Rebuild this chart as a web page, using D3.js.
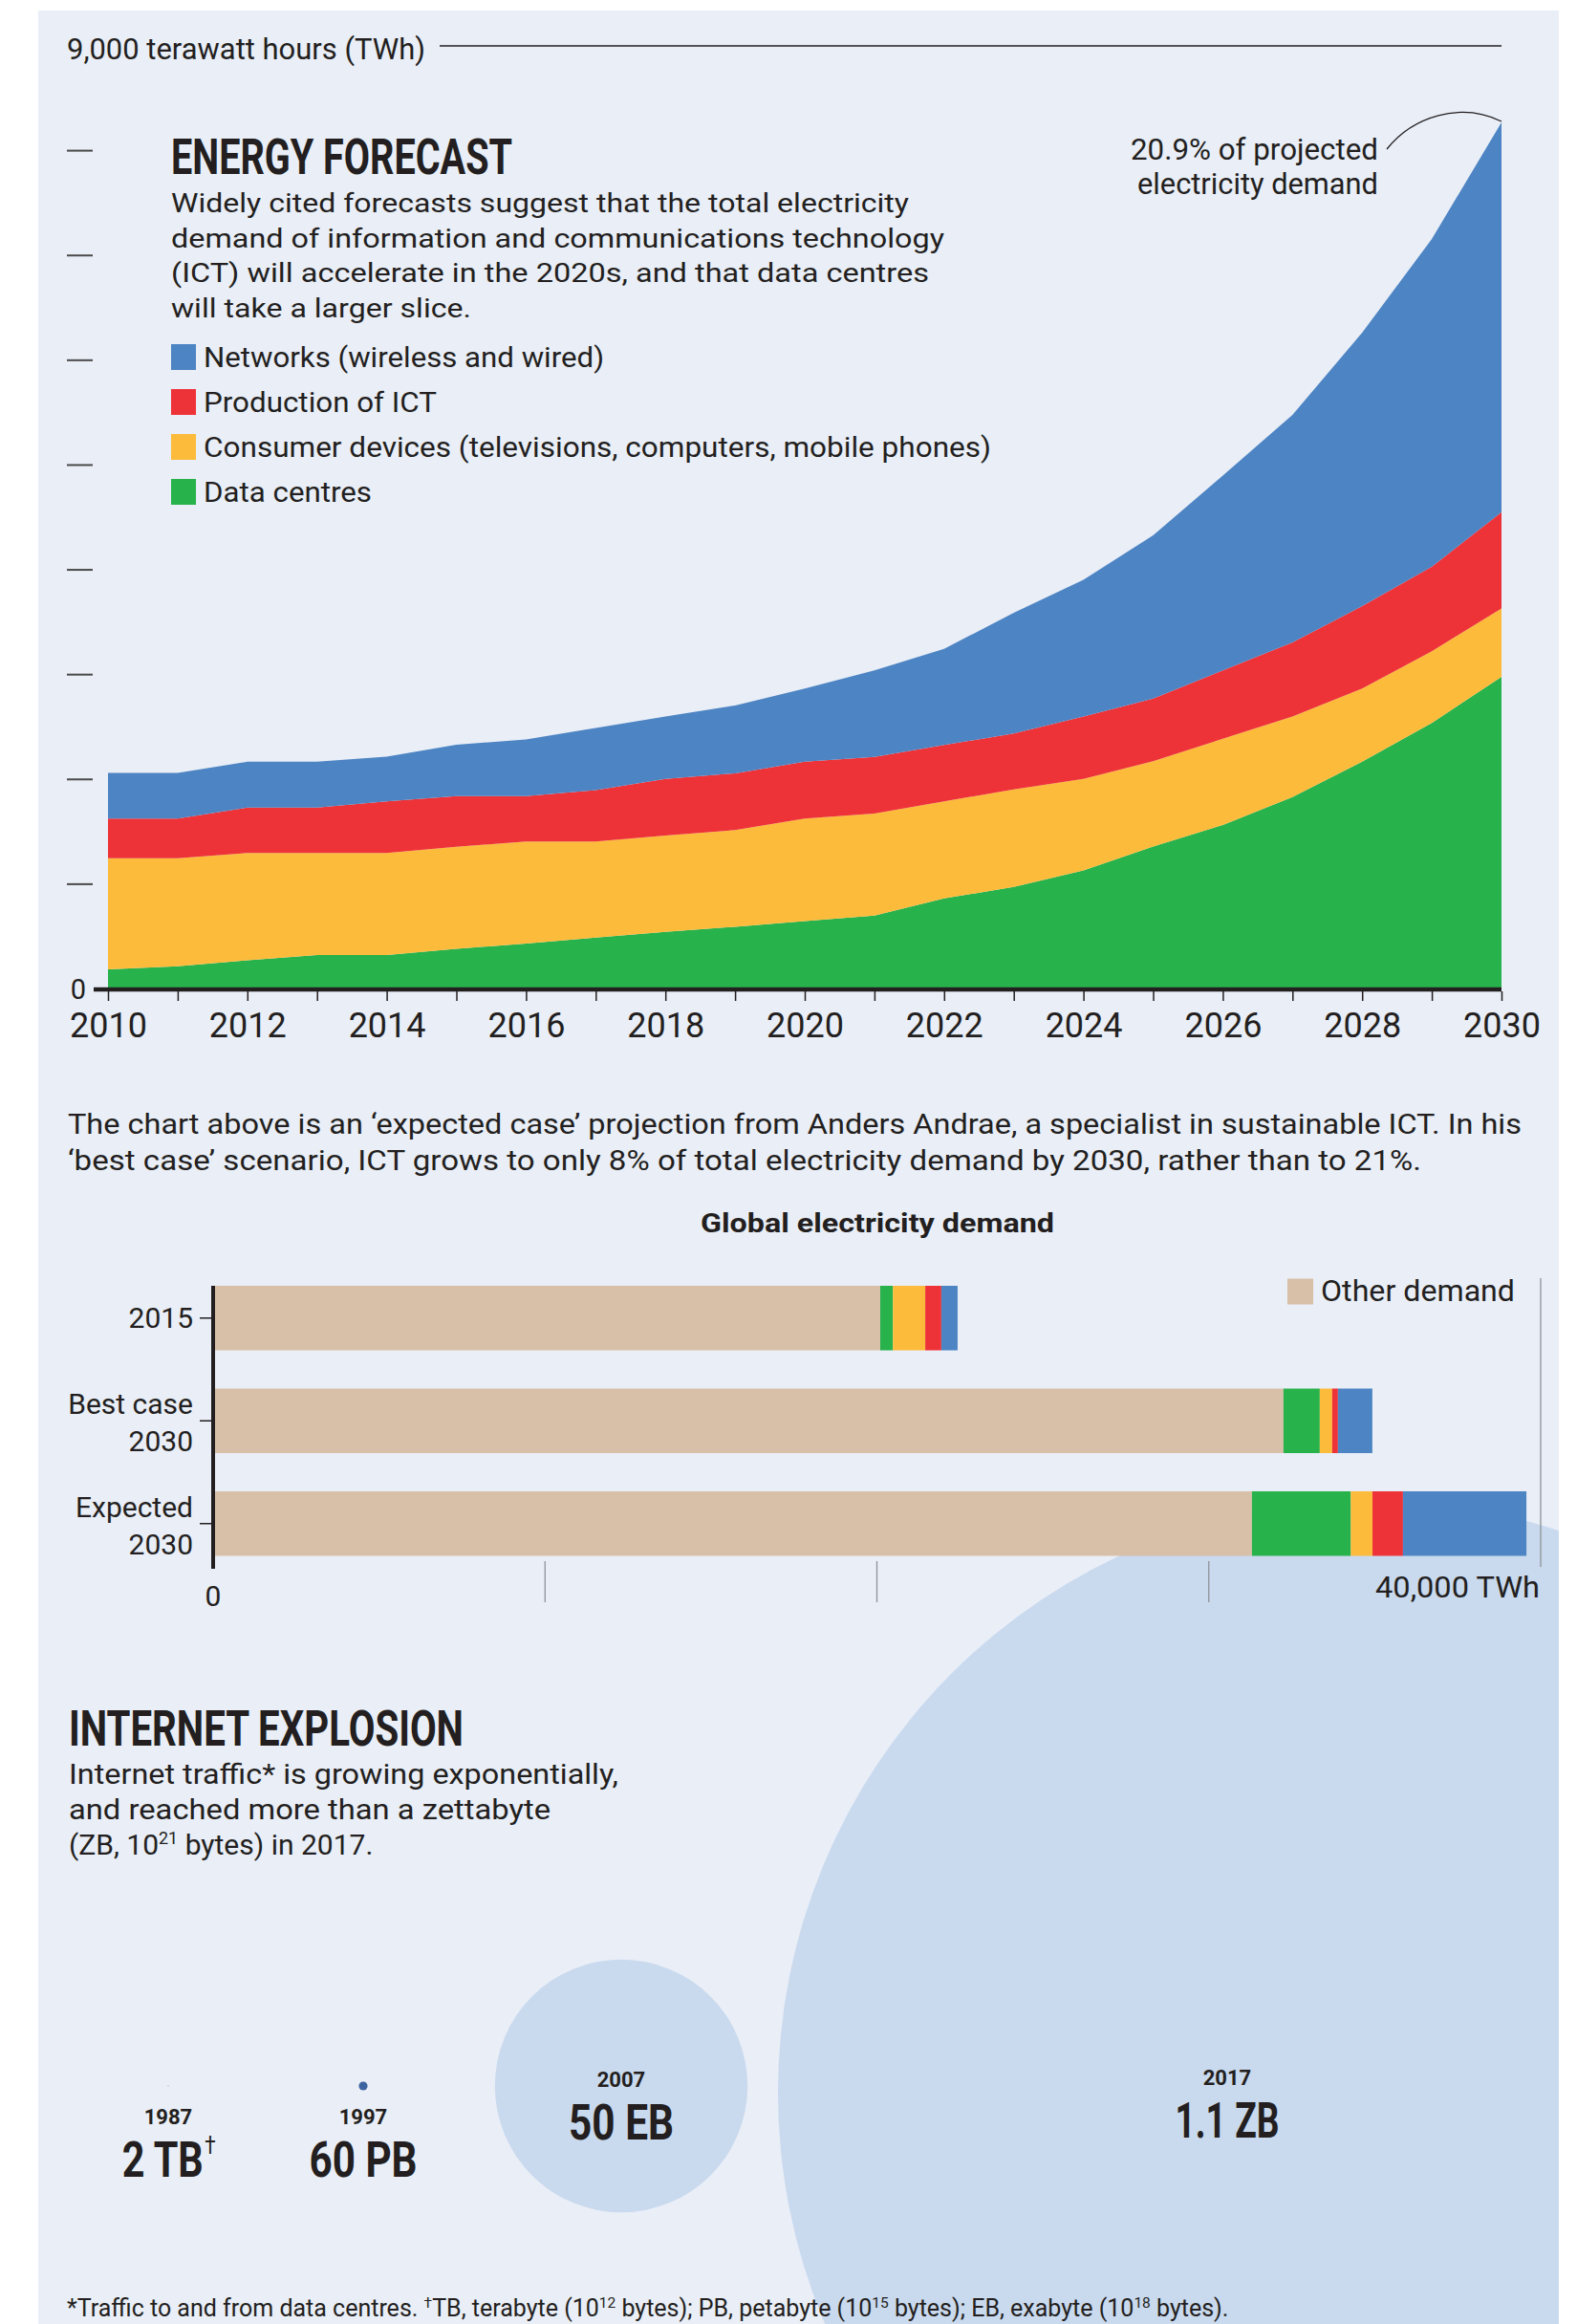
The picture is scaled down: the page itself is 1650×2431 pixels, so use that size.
<!DOCTYPE html>
<html>
<head>
<meta charset="utf-8">
<script src="https://cdn.jsdelivr.net/npm/d3@7"></script>
<style>
  html, body { margin: 0; padding: 0; background: #ffffff; }
  svg { display: block; }
  text { font-family: Roboto, "Liberation Sans", sans-serif; fill: #231f20; }
</style>
</head>
<body>
<svg id="chart" width="1650" height="2431"></svg>
<script>
// ---------- Energy forecast: ICT electricity demand (TWh) ----------
const years = [2010, 2011, 2012, 2013, 2014, 2015, 2016, 2017, 2018, 2019, 2020,
               2021, 2022, 2023, 2024, 2025, 2026, 2027, 2028, 2029, 2030];
const dataCentres     = [188, 217, 273, 324, 324, 383, 434, 490, 544, 594, 647,
                         701, 864, 974, 1131, 1360, 1565, 1832, 2168, 2539, 2978];
const consumerDevices = [1059, 1030, 1025, 974, 974, 974, 973, 917, 920, 923, 980,
                         974, 927, 930, 873, 814, 823, 769, 700, 684, 654];
const productionICT   = [380, 380, 433, 433, 493, 484, 434, 491, 540, 541, 541,
                         540, 537, 534, 597, 597, 653, 707, 786, 808, 918];
const networks        = [434, 434, 437, 437, 427, 490, 540, 593, 597, 647, 700,
                         826, 917, 1153, 1304, 1558, 1858, 2170, 2609, 3126, 3720];
const yTickValues = [1000, 2000, 3000, 4000, 5000, 6000, 7000, 8000];
const xTickLabels = [2010, 2012, 2014, 2016, 2018, 2020, 2022, 2024, 2026, 2028, 2030];
const legendNames = ["Networks (wireless and wired)", "Production of ICT",
                     "Consumer devices (televisions, computers, mobile phones)", "Data centres"];

// ---------- Global electricity demand (TWh) ----------
const demandCategories = [["2015"], ["Best case", "2030"], ["Expected", "2030"]];
const otherDemand        = [20100, 32250, 31300];
const demandDataCentres  = [383, 1094, 2978];
const demandConsumer     = [974, 374, 654];
const demandProduction   = [484, 173, 918];
const demandNetworks     = [490, 1037, 3720];
const demandTicks = [0, 10000, 20000, 30000, 40000];

// ---------- Internet traffic (bytes per year) ----------
const trafficYears  = ["1987", "1997", "2007", "2017"];
const trafficLabels = ["2 TB", "60 PB", "50 EB", "1.1 ZB"];
const trafficBytes  = [2e12, 60e15, 50e18, 1.1e21];

// ---------- styling ----------
const ink = "#231f20";
const colors = {
  nw: "#4d84c3", pr: "#ee3338", cd: "#fdbb3c", dc: "#28b24b", other: "#d8c0a8"
};
const bubbleLight = "#c9d9ee", bubbleDark = "#3d64a0";

const svg = d3.select("#chart");
const W = 1650, H = 2431;

svg.append("rect").attr("width", W).attr("height", H).attr("fill", "#ffffff");
const panel = { x: 40, y: 11, w: 1591, h: H - 11 };
svg.append("rect").attr("x", panel.x).attr("y", panel.y)
  .attr("width", panel.w).attr("height", panel.h).attr("fill", "#e9eef7");

svg.append("defs").append("clipPath").attr("id", "panelClip")
  .append("rect").attr("x", panel.x).attr("y", panel.y)
  .attr("width", panel.w).attr("height", panel.h);

function label(parent, x, y, str, o = {}) {
  const t = parent.append("text").attr("x", x).attr("y", y)
    .attr("font-size", o.size || 28)
    .attr("font-weight", o.weight || 400)
    .attr("text-anchor", o.anchor || "start")
    .text(str);
  if (o.len) t.attr("textLength", o.len).attr("lengthAdjust", "spacingAndGlyphs");
  if (o.fill) t.style("fill", o.fill);
  return t;
}

// ======================= Bubbles (drawn first, behind the bar chart) =======================
const rScale = d3.scaleSqrt().domain([0, 1.1e21]).range([0, 620]);
const bubbleX = [176, 380, 650, 1434];
const bubbleY = [2182, 2182, 2182, 2189];
const bubbles = svg.append("g").attr("clip-path", "url(#panelClip)");
bubbles.selectAll("circle").data(trafficBytes).join("circle")
  .attr("cx", (d, i) => bubbleX[i])
  .attr("cy", (d, i) => bubbleY[i])
  .attr("r", d => rScale(d))
  .attr("fill", d => rScale(d) < 20 ? bubbleDark : bubbleLight)
  .attr("stroke", d => rScale(d) < 1 ? bubbleDark : "none")
  .attr("stroke-width", 1.2);

// ======================= Stacked area chart =======================
const x = d3.scaleLinear().domain([2010, 2030]).range([113, 1571]);
const y = d3.scaleLinear().domain([0, 9000]).range([1034.5, 48]);

const rows = years.map((yr, i) => ({
  year: yr, dc: dataCentres[i], cd: consumerDevices[i], pr: productionICT[i], nw: networks[i]
}));
const layers = d3.stack().keys(["dc", "cd", "pr", "nw"])(rows);
const area = d3.area()
  .x(d => x(d.data.year))
  .y0(d => y(d[0]))
  .y1(d => y(d[1]));

const upper = svg.append("g");
upper.selectAll("path.layer").data(layers).join("path")
  .attr("class", "layer")
  .attr("d", area)
  .attr("fill", d => colors[d.key]);

// 9,000 TWh gridline and label
label(upper, 70, y(9000) + 14, "9,000 terawatt hours (TWh)", { size: 30.5, len: 375 });
upper.append("line").attr("x1", 460).attr("x2", x(2030))
  .attr("y1", y(9000)).attr("y2", y(9000))
  .attr("stroke", ink).attr("stroke-width", 1.4);

// left tick dashes
upper.selectAll("line.ytick").data(yTickValues).join("line")
  .attr("class", "ytick")
  .attr("x1", 70).attr("x2", 97)
  .attr("y1", d => y(d)).attr("y2", d => y(d))
  .attr("stroke", "#4a4a4a").attr("stroke-width", 2);
label(upper, 90, y(0) + 10.5, "0", { size: 29, anchor: "end" });

// bottom axis: ticks every year, labels every other year
const xAxis = d3.axisBottom(x)
  .tickValues(years)
  .tickSize(10)
  .tickPadding(12)
  .tickFormat(d => xTickLabels.includes(d) ? String(d) : "");
const xg = upper.append("g").attr("transform", `translate(0,${y(0) + 2.5})`).call(xAxis);
xg.select(".domain").remove();
xg.selectAll(".tick line").attr("stroke", ink).attr("stroke-width", 1.5);
xg.selectAll(".tick text").attr("font-size", 36).attr("font-family", "Roboto, sans-serif")
  .style("fill", ink);

// heavy baseline
upper.append("line").attr("x1", 98).attr("x2", x(2030))
  .attr("y1", y(0) + 0.5).attr("y2", y(0) + 0.5)
  .attr("stroke", ink).attr("stroke-width", 4.5);

// title, intro and legend
label(upper, 179, 182, "ENERGY FORECAST", { size: 52, weight: 700, len: 357 });
const intro = [
  ["Widely cited forecasts suggest that the total electricity", 772],
  ["demand of information and communications technology", 809],
  ["(ICT) will accelerate in the 2020s, and that data centres", 793],
  ["will take a larger slice.", 314]
];
intro.forEach(([s, w], i) => label(upper, 179, 222 + i * 36.7, s, { size: 27.5, len: w }));

const legendKeys = ["nw", "pr", "cd", "dc"];
const legendWidths = [419, 244, 824, 176];
const legend = upper.append("g");
legend.selectAll("rect").data(legendKeys).join("rect")
  .attr("x", 179).attr("y", (d, i) => 360 + i * 47)
  .attr("width", 26).attr("height", 27)
  .attr("fill", d => colors[d]);
legendNames.forEach((s, i) =>
  label(legend, 213, 383.5 + i * 47, s, { size: 29.5, len: legendWidths[i] }));

// share annotation for 2030
const share = upper.append("g");
label(share, 1442, 167, "20.9% of projected", { size: 31, anchor: "end", len: 259 });
label(share, 1442, 203, "electricity demand", { size: 31, anchor: "end", len: 252 });
const last = layers[layers.length - 1][years.length - 1];
share.append("path")
  .attr("d", `M1451,156 C1478,122 1528,106 ${x(2030)},${y(last[1]) - 1}`)
  .attr("fill", "none").attr("stroke", ink).attr("stroke-width", 1.3);

// ======================= Explanatory paragraph =======================
label(svg, 71, 1186, "The chart above is an \u2018expected case\u2019 projection from Anders Andrae, a specialist in sustainable ICT. In his",
  { size: 29, len: 1521 });
label(svg, 71, 1224, "\u2018best case\u2019 scenario, ICT grows to only 8% of total electricity demand by 2030, rather than to 21%.",
  { size: 29, len: 1416 });

// ======================= Global electricity demand bars =======================
const xb = d3.scaleLinear().domain([0, 40000]).range([223, 1612]);
const catKeys = demandCategories.map(d => d.join(" "));
const yb = d3.scaleBand().domain(catKeys).range([1345, 1627.5]).paddingInner(0.372);

const barRows = catKeys.map((k, i) => ({
  cat: k, other: otherDemand[i], dc: demandDataCentres[i], cd: demandConsumer[i],
  pr: demandProduction[i], nw: demandNetworks[i]
}));
const barLayers = d3.stack().keys(["other", "dc", "cd", "pr", "nw"])(barRows);

const bars = svg.append("g");
label(bars, 918, 1289, "Global electricity demand", { size: 27, weight: 700, anchor: "middle", len: 370 });

// short reference ticks below the bars
bars.selectAll("line.grid").data(demandTicks.filter(d => d > 0 && d < 40000)).join("line")
  .attr("class", "grid")
  .attr("x1", d => xb(d)).attr("x2", d => xb(d))
  .attr("y1", 1633).attr("y2", 1676)
  .attr("stroke", "#8e9399").attr("stroke-width", 1.3);
bars.append("line")
  .attr("x1", xb(40000)).attr("x2", xb(40000))
  .attr("y1", 1337).attr("y2", 1639)
  .attr("stroke", "#8e9399").attr("stroke-width", 1.3);

bars.selectAll("g.seg").data(barLayers).join("g")
  .attr("class", "seg")
  .attr("fill", d => colors[d.key])
  .selectAll("rect").data(d => d).join("rect")
  .attr("x", d => xb(d[0]))
  .attr("width", d => xb(d[1]) - xb(d[0]))
  .attr("y", d => yb(d.data.cat))
  .attr("height", yb.bandwidth());

// category axis
bars.append("line").attr("x1", 223).attr("x2", 223)
  .attr("y1", 1345).attr("y2", 1641)
  .attr("stroke", ink).attr("stroke-width", 4);
demandCategories.forEach((lines, i) => {
  const cy = yb(catKeys[i]) + yb.bandwidth() / 2;
  bars.append("line").attr("x1", 209).attr("x2", 223)
    .attr("y1", cy).attr("y2", cy).attr("stroke", ink).attr("stroke-width", 1.5);
  if (lines.length === 1) {
    label(bars, 202, cy + 10, lines[0], { size: 30, anchor: "end" });
  } else {
    label(bars, 202, cy - 7, lines[0], { size: 30, anchor: "end" });
    label(bars, 202, cy + 32, lines[1], { size: 30, anchor: "end" });
  }
});

// value axis labels
label(bars, xb(0), 1680, "0", { size: 30, anchor: "middle" });
label(bars, xb(40000) - 1, 1671, "40,000 TWh", { size: 32, anchor: "end", len: 172 });

// legend for the remaining demand
bars.append("rect").attr("x", 1347).attr("y", 1337.5).attr("width", 27).attr("height", 27)
  .attr("fill", colors.other);
label(bars, 1382, 1361, "Other demand", { size: 31, len: 203 });

// ======================= Internet explosion =======================
const net = svg.append("g");
label(net, 72, 1826, "INTERNET EXPLOSION", { size: 52, weight: 700, len: 413 });
label(net, 72, 1866, "Internet traffic* is growing exponentially,", { size: 30, len: 575 });
label(net, 72, 1903, "and reached more than a zettabyte", { size: 30, len: 504 });
const l3 = net.append("text").attr("x", 72).attr("y", 1940).attr("font-size", 30);
l3.append("tspan").text("(ZB, 10");
l3.append("tspan").attr("dy", -11).attr("font-size", 18).text("21");
l3.append("tspan").attr("dy", 11).text(" bytes) in 2017.");

const labelX = [176, 380, 650, 1284];
const yearBase = [2222, 2222, 2183, 2181];
const valueWidths = [85, 113, 110, 109];
trafficYears.forEach((yr, i) => {
  label(net, labelX[i], yearBase[i], yr, { size: 22, weight: 700, anchor: "middle" });
  if (i === 0) {
    // first value carries a dagger note marker; both sit in one condensed text element
    const t = net.append("text").attr("x", 0).attr("y", 0)
      .attr("font-size", 52).attr("font-weight", 700);
    const main = t.append("tspan").text(trafficLabels[i]);
    t.append("tspan").attr("dy", -24).attr("dx", 2).attr("font-size", 26)
      .attr("font-weight", 400).text("\u2020");
    const s = valueWidths[i] / main.node().getComputedTextLength();
    const full = t.node().getComputedTextLength() * s;
    t.attr("transform", `translate(${labelX[i] - full / 2},${yearBase[i] + 54.5}) scale(${s},1)`);
  } else {
    label(net, labelX[i], yearBase[i] + 54.5, trafficLabels[i],
      { size: 52, weight: 700, anchor: "middle", len: valueWidths[i] });
  }
});

// footnote
const fn = svg.append("text").attr("x", 70).attr("y", 2423).attr("font-size", 25);
const sup = (s) => { fn.append("tspan").attr("dy", -9).attr("font-size", 15.5).text(s); };
const norm = (s) => { fn.append("tspan").attr("dy", 9).text(s); };
fn.append("tspan").text("*Traffic to and from data centres. ");
sup("\u2020");
norm("TB, terabyte (10");
sup("12");
norm(" bytes); PB, petabyte (10");
sup("15");
norm(" bytes); EB, exabyte (10");
sup("18");
norm(" bytes).");
</script>
</body>
</html>
